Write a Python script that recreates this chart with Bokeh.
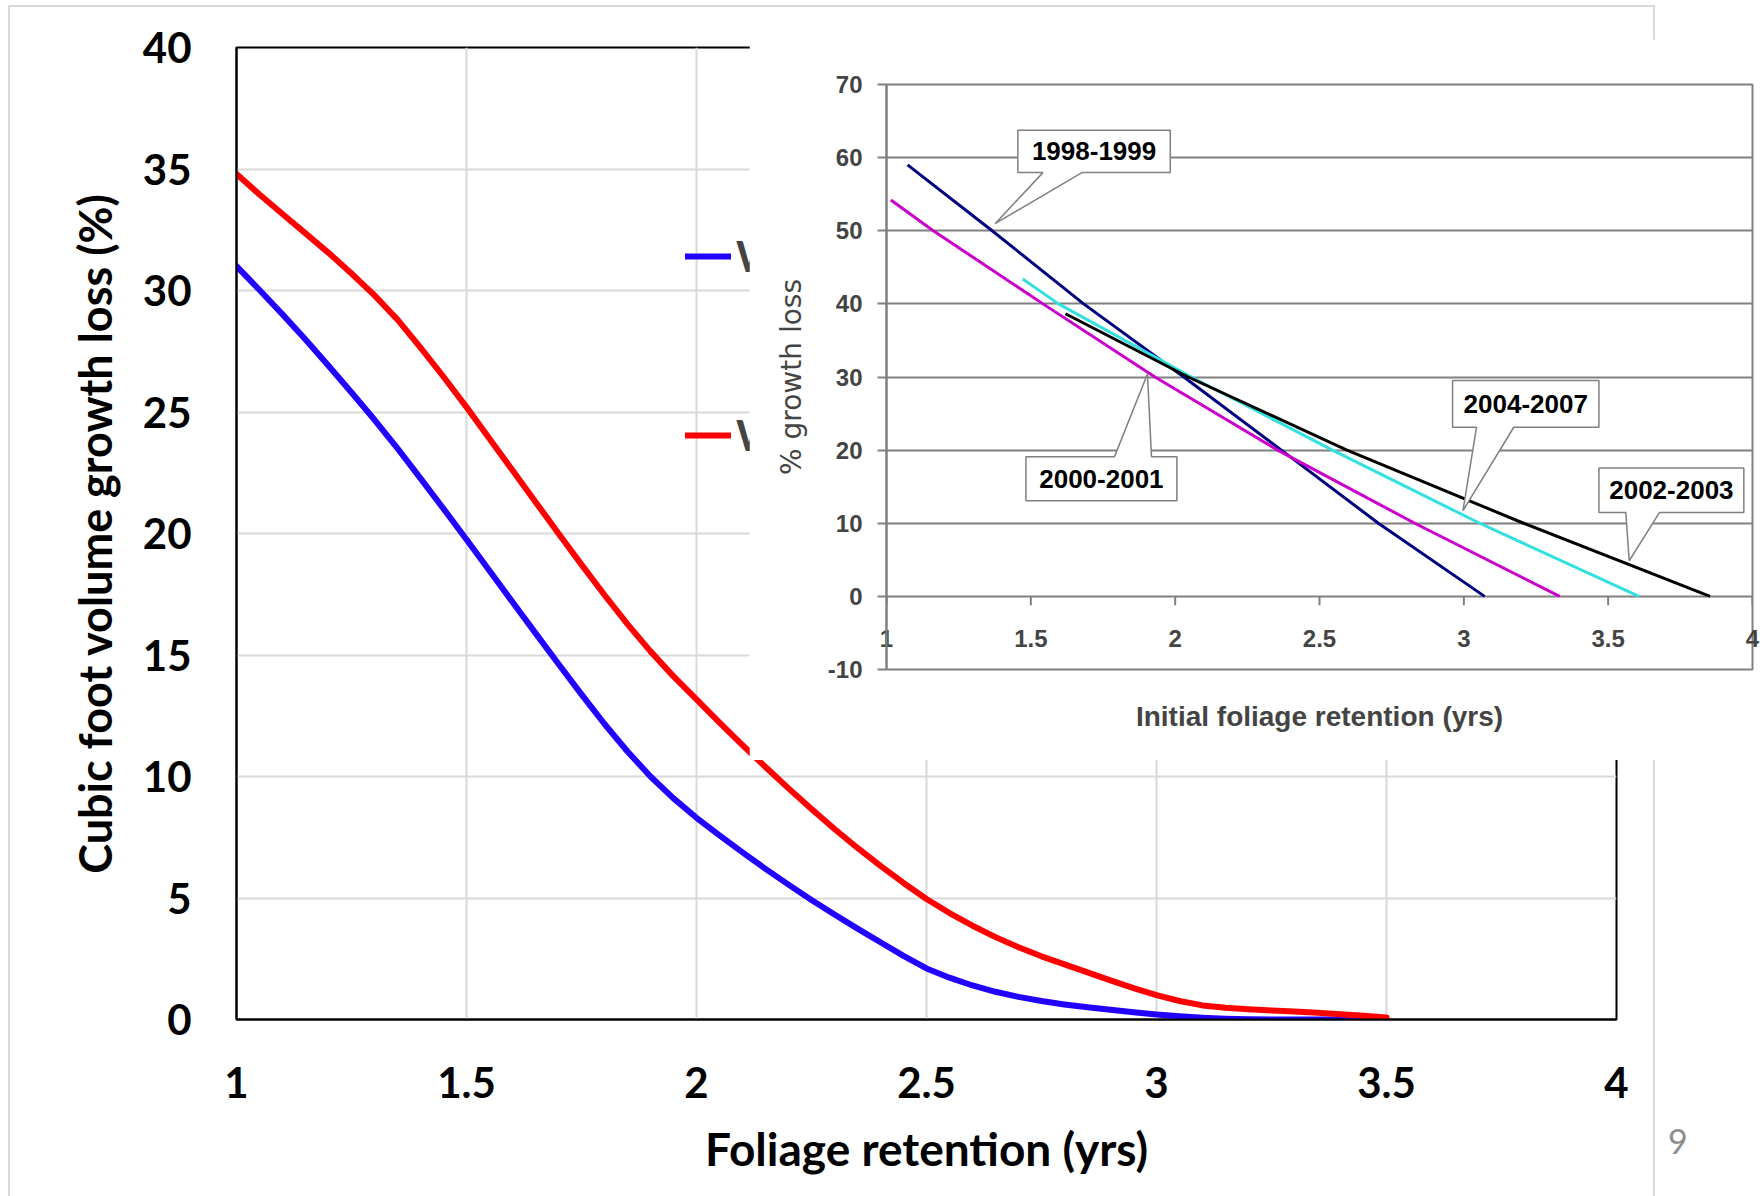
from bokeh.plotting import figure
from bokeh.models import (ColumnDataSource, Range1d, FixedTicker, Legend, LegendItem,
                          Div, NumeralTickFormatter)
from bokeh.core.properties import value
from bokeh.embed import file_html
from bokeh.resources import INLINE

# ---------------- main chart data ----------------
retention = [1.00, 1.05, 1.10, 1.15, 1.20, 1.25, 1.30, 1.35, 1.40, 1.45,
             1.50, 1.55, 1.60, 1.65, 1.70, 1.75, 1.80, 1.85, 1.90, 1.95,
             2.00, 2.05, 2.10, 2.15, 2.20, 2.25, 2.30, 2.35, 2.40, 2.45,
             2.50, 2.55, 2.60, 2.65, 2.70, 2.75, 2.80, 2.85, 2.90, 2.95,
             3.00, 3.05, 3.10, 3.15, 3.20, 3.25, 3.30, 3.35, 3.40, 3.45, 3.50]
loss_blue = [31.0, 30.02, 29.02, 27.98, 26.9, 25.8, 24.68, 23.5, 22.27, 21.02,
             19.75, 18.47, 17.18, 15.9, 14.63, 13.38, 12.16, 11.03, 10.0, 9.1,
             8.3, 7.58, 6.88, 6.2, 5.55, 4.92, 4.32, 3.74, 3.18, 2.62,
             2.1, 1.72, 1.4, 1.14, 0.93, 0.76, 0.62, 0.5, 0.4, 0.3,
             0.21, 0.13, 0.07, 0.03, 0.01, 0.0, 0.0, 0.0, 0.0, 0.0, 0.0]
loss_red = [34.8, 33.95, 33.15, 32.35, 31.55, 30.7, 29.8, 28.8, 27.65, 26.45,
            25.2, 23.9, 22.6, 21.3, 20.0, 18.72, 17.47, 16.27, 15.15, 14.12,
            13.17, 12.22, 11.29, 10.39, 9.51, 8.66, 7.84, 7.06, 6.32, 5.62,
            4.96, 4.38, 3.86, 3.39, 2.97, 2.6, 2.27, 1.94, 1.61, 1.29,
            1.0, 0.76, 0.58, 0.48, 0.42, 0.37, 0.33, 0.28, 0.22, 0.15, 0.08]
main_x_ticks = [1, 1.5, 2, 2.5, 3, 3.5, 4]
main_y_ticks = [0, 5, 10, 15, 20, 25, 30, 35, 40]
legend_labels = ["W", "W"]
page_number = "9"

# ---------------- inset chart data ----------------
x_1998 = [1.073, 1.366, 1.683, 2.030, 2.368, 2.704, 3.072]
y_1998 = [59.0, 50.0, 40.0, 30.0, 20.0, 10.0, 0.0]
x_2000 = [1.015, 1.162, 1.542, 1.930, 2.355, 2.830, 3.332]
y_2000 = [54.2, 50.0, 40.0, 30.0, 20.0, 10.0, 0.0]
x_2004 = [1.472, 1.596, 2.056, 2.545, 3.055, 3.607]
y_2004 = [43.4, 40.0, 30.0, 20.0, 10.0, 0.0]
x_2002 = [1.620, 2.045, 2.595, 3.207, 3.853]
y_2002 = [38.65, 30.0, 20.0, 10.0, 0.0]
inset_x_ticks = [1, 1.5, 2, 2.5, 3, 3.5, 4]
inset_y_ticks = [-10, 0, 10, 20, 30, 40, 50, 60, 70]

# callout annotations: label, pointed-at point, box (x0, x1, y0, y1), pointer base, side
callouts = [
    ("1998-1999", (1.376, 50.97), (1.455, 1.983, 57.95, 63.74), (1.542, 1.677), "bottom"),
    ("2000-2001", (1.904, 30.40), (1.483, 2.006, 13.09, 19.11), (1.790, 1.918), "top"),
    ("2004-2007", (2.997, 11.72), (2.961, 3.468, 23.13, 29.52), (3.044, 3.173), "bottom"),
    ("2002-2003", (3.573, 4.87), (3.468, 3.970, 11.48, 17.56), (3.561, 3.678), "bottom"),
]

MAIN_FONT = "Lato"
INSET_FONT = "Liberation Sans"

# ================= main figure =================
p = figure(width=1762, height=1196, x_range=Range1d(1, 4), y_range=Range1d(0, 40),
           output_backend="svg", toolbar_location=None,
           min_border_left=236, min_border_right=146, min_border_top=47, min_border_bottom=177,
           styles={"position": "absolute", "left": "0px", "top": "0px", "z-index": "0"})
p.background_fill_color = "white"
p.border_fill_color = "white"
p.outline_line_color = "black"
p.outline_line_width = 2

for ax in (p.xaxis[0], p.yaxis[0]):
    ax.axis_line_color = "black"
    ax.axis_line_width = 2
    ax.major_tick_out = 0
    ax.major_tick_in = 0
    ax.minor_tick_out = 0
    ax.minor_tick_in = 0
    ax.major_label_text_font = MAIN_FONT
    ax.major_label_text_font_style = "bold"
    ax.major_label_text_font_size = "42px"
    ax.major_label_text_color = "black"
    ax.axis_label_text_font = MAIN_FONT
    ax.axis_label_text_font_style = "bold"
    ax.axis_label_text_color = "black"
    ax.formatter = NumeralTickFormatter(format="0.[0]")

p.xaxis.ticker = FixedTicker(ticks=main_x_ticks)
p.yaxis.ticker = FixedTicker(ticks=main_y_ticks)
p.xaxis.axis_label = "Foliage retention (yrs)"
p.yaxis.axis_label = "Cubic foot volume growth loss (%)"
p.xaxis.axis_label_text_font_size = "46px"
p.yaxis.axis_label_text_font_size = "45px"
p.xaxis.major_label_standoff = 47
p.yaxis.major_label_standoff = 45
p.xaxis.axis_label_standoff = 20
p.yaxis.axis_label_standoff = 18

p.xgrid.ticker = FixedTicker(ticks=main_x_ticks)
p.ygrid.ticker = FixedTicker(ticks=main_y_ticks)
p.grid.grid_line_color = "#d9d9d9"
p.grid.grid_line_width = 2

src = ColumnDataSource(data=dict(x=retention, blue=loss_blue, red=loss_red))
rb = p.line("x", "blue", source=src, line_color="#2200ff", line_width=6,
            line_cap="round", line_join="round")
rr = p.line("x", "red", source=src, line_color="#ff0000", line_width=6,
            line_cap="round", line_join="round")

legend = Legend(items=[LegendItem(label=legend_labels[0], renderers=[rb]),
                       LegendItem(label=legend_labels[1], renderers=[rr])],
                location=(449, 559), orientation="vertical",
                glyph_width=46, glyph_height=50, label_height=50, spacing=129,
                padding=0, margin=0, label_standoff=5,
                border_line_color=None, background_fill_alpha=0,
                label_text_font=MAIN_FONT, label_text_font_style="bold",
                label_text_font_size="42px")
p.add_layout(legend)

# slide frame lines
frame = Div(text="", width=1647, height=1191, margin=0,
            styles={"position": "absolute", "left": "8px", "top": "5px", "z-index": "1",
                    "box-sizing": "border-box", "border-top": "2px solid #d9d9d9",
                    "border-left": "2px solid #d9d9d9", "border-right": "2px solid #d9d9d9",
                    "pointer-events": "none", "background": "transparent"})

# slide page number
page = Div(text=('<span style="font-family: Lato; font-size: 34px; line-height: 34px; '
                 'color: #8c8c8c;">' + page_number + '</span>'),
           width=30, height=38, margin=0,
           styles={"position": "absolute", "left": "1668px", "top": "1124px", "z-index": "1"})

# ================= inset figure =================
q = figure(width=1013, height=721, x_range=Range1d(1, 4), y_range=Range1d(-10, 70),
           output_backend="svg", toolbar_location=None,
           min_border_left=137, min_border_right=10, min_border_top=45, min_border_bottom=91,
           styles={"position": "absolute", "left": "749px", "top": "39px", "z-index": "2"})
q.background_fill_color = "white"
q.border_fill_color = "white"
q.outline_line_color = "#808080"
q.outline_line_width = 2

GRAY = "#808080"
ya = q.yaxis[0]
ya.ticker = FixedTicker(ticks=inset_y_ticks)
ya.formatter = NumeralTickFormatter(format="0.[0]")
ya.axis_line_color = GRAY
ya.axis_line_width = 2
ya.major_tick_line_color = GRAY
ya.major_tick_line_width = 2
ya.major_tick_out = 9
ya.major_tick_in = 0
ya.minor_tick_out = 0
ya.minor_tick_in = 0
ya.major_label_standoff = 15
ya.major_label_text_font = INSET_FONT
ya.major_label_text_font_style = "bold"
ya.major_label_text_font_size = "24px"
ya.axis_label = "% growth loss"
ya.axis_label_text_font = "DejaVu Sans"
ya.axis_label_text_font_style = "normal"
ya.axis_label_text_font_size = "28px"
ya.axis_label_standoff = 17

xa = q.xaxis[0]
xa.ticker = FixedTicker(ticks=inset_x_ticks)
xa.formatter = NumeralTickFormatter(format="0.[0]")
xa.axis_line_color = None
xa.major_tick_line_color = None
xa.minor_tick_line_color = None
xa.major_tick_out = 0
xa.major_tick_in = 0
xa.major_label_standoff = -40
xa.major_label_text_font = INSET_FONT
xa.major_label_text_font_style = "bold"
xa.major_label_text_font_size = "24px"
xa.axis_label = "Initial foliage retention (yrs)"
xa.axis_label_text_font = INSET_FONT
xa.axis_label_text_font_style = "bold"
xa.axis_label_text_font_size = "28px"
xa.axis_label_standoff = 51

q.xgrid.grid_line_color = None
q.ygrid.ticker = FixedTicker(ticks=inset_y_ticks)
q.ygrid.grid_line_color = GRAY
q.ygrid.grid_line_width = 2

# small tick marks under the zero line
tick_src = ColumnDataSource(data=dict(x=inset_x_ticks, y0=[0] * len(inset_x_ticks),
                                      y1=[-1.2] * len(inset_x_ticks)))
q.segment(x0="x", y0="y0", x1="x", y1="y1", source=tick_src, line_color=GRAY, line_width=2)

series = [(x_1998, y_1998, "#000080"), (x_2000, y_2000, "#cc00cc"),
          (x_2004, y_2004, "#33e0e0"), (x_2002, y_2002, "#000000")]
for xs, ys, col in series:
    q.line(xs, ys, line_color=col, line_width=3, line_join="round")

# callouts
pxs, pys, tx, ty, tt = [], [], [], [], []
for label, (px_, py_), (x0, x1, y0, y1), (b0, b1), side in callouts:
    if side == "bottom":
        xs_ = [x0, x1, x1, b1, px_, b0, x0]
        ys_ = [y1, y1, y0, y0, py_, y0, y0]
    else:
        xs_ = [x0, b0, px_, b1, x1, x1, x0]
        ys_ = [y1, y1, py_, y1, y1, y0, y0]
    pxs.append(xs_)
    pys.append(ys_)
    tx.append((x0 + x1) / 2)
    ty.append((y0 + y1) / 2)
    tt.append(label)
q.patches(pxs, pys, fill_color="white", line_color=GRAY, line_width=1.5)
q.text(x=tx, y=ty, text=tt, text_align="center", text_baseline="middle",
       text_font=value(INSET_FONT), text_font_style="bold", text_font_size="26px",
       text_color="black")

html = file_html([p, frame, page, q], INLINE)
with open("out.html", "w") as f:
    f.write(html)
